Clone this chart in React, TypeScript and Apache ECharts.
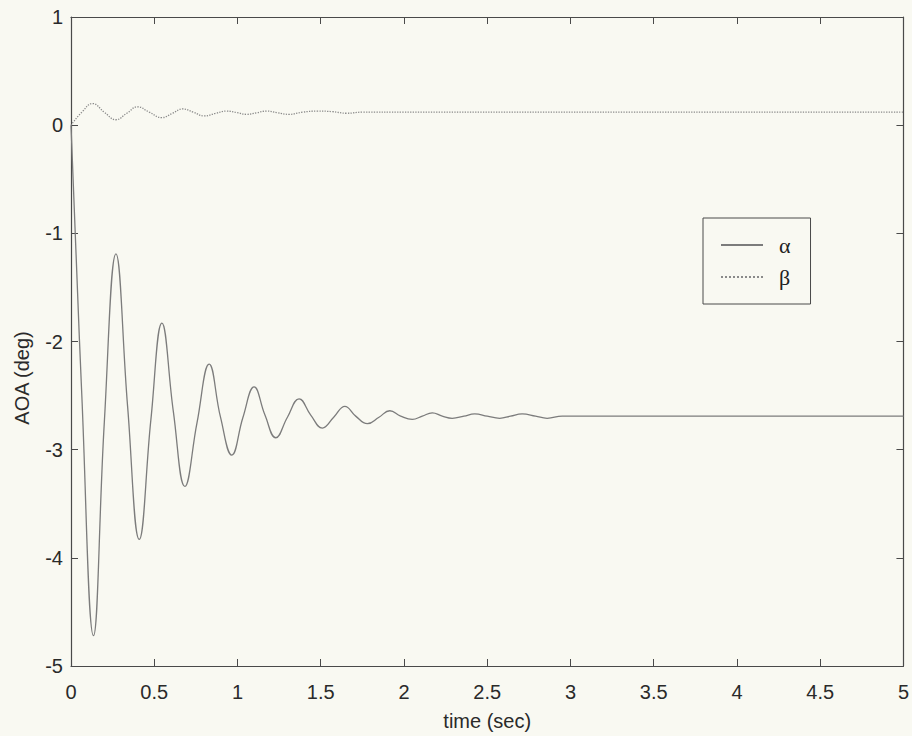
import React, { useEffect, useRef } from "react";
import * as echarts from "echarts";

const alphaT = [0, 0.065, 0.135, 0.2, 0.27, 0.34, 0.41, 0.48, 0.546, 0.615, 0.684, 0.757, 0.83, 0.898, 0.966, 1.033, 1.1, 1.165, 1.23, 1.3, 1.37, 1.44, 1.51, 1.578, 1.645, 1.71, 1.78, 1.85, 1.915, 1.98, 2.05, 2.11, 2.17, 2.23, 2.29, 2.36, 2.425, 2.5, 2.575, 2.64, 2.71, 2.79, 2.86, 2.95, 3.2, 5];
const alphaV = [0, -2.5, -4.72, -2.75, -1.19, -2.6, -3.83, -2.72, -1.83, -2.65, -3.34, -2.75, -2.21, -2.7, -3.05, -2.7, -2.42, -2.68, -2.89, -2.7, -2.53, -2.68, -2.8, -2.7, -2.6, -2.69, -2.76, -2.7, -2.64, -2.69, -2.72, -2.69, -2.66, -2.69, -2.71, -2.69, -2.67, -2.69, -2.71, -2.69, -2.67, -2.69, -2.71, -2.69, -2.69, -2.69];

const betaT = [0, 0.065, 0.13, 0.2, 0.27, 0.335, 0.4, 0.47, 0.545, 0.61, 0.67, 0.735, 0.8, 0.87, 0.935, 1.0, 1.055, 1.115, 1.175, 1.24, 1.31, 1.39, 1.48, 1.57, 1.655, 1.75, 2.0, 5];
const betaV = [0, 0.12, 0.2, 0.12, 0.05, 0.11, 0.17, 0.12, 0.07, 0.11, 0.15, 0.12, 0.085, 0.11, 0.13, 0.115, 0.1, 0.115, 0.13, 0.115, 0.1, 0.12, 0.13, 0.125, 0.11, 0.12, 0.12, 0.12];

const xTicks = { min: 0, max: 5, interval: 0.5 };
const yTicks = { min: -5, max: 1, interval: 1 };

const BG = "#f9f9f2";
const AXIS = "#4a4a4a";
const FONT = "'Liberation Sans', Arial, Helvetica, sans-serif";

export default function App() {
  const ref = useRef<HTMLDivElement>(null);
  useEffect(() => {
    document.body.style.margin = "0";
    document.body.style.background = BG;
    const chart = echarts.init(ref.current!, null, { renderer: "svg" });
    const axisCommon = {
      type: "value" as const,
      axisLine: { show: true, onZero: false, lineStyle: { color: AXIS, width: 1.2 } },
      axisTick: { show: true, inside: true, length: 7, lineStyle: { color: AXIS, width: 1 } },
      splitLine: { show: false },
    };
    const alphaData = alphaT.map((t, i) => [t, alphaV[i]]);
    const betaData = betaT.map((t, i) => [t, betaV[i]]);
    chart.setOption({
      animation: false,
      backgroundColor: BG,
      grid: { left: 71, right: 8, top: 17, bottom: 70, containLabel: false },
      xAxis: [
        {
          ...axisCommon,
          position: "bottom",
          ...xTicks,
          axisLabel: { color: "#2a2a2a", fontSize: 20, fontFamily: FONT, margin: 16 },
          name: "time (sec)",
          nameLocation: "middle",
          nameGap: 45,
          nameTextStyle: { color: "#2a2a2a", fontSize: 20, fontFamily: FONT },
        },
        {
          ...axisCommon,
          position: "top",
          ...xTicks,
          axisLabel: { show: false },
        },
      ],
      yAxis: [
        {
          ...axisCommon,
          position: "left",
          ...yTicks,
          axisLabel: { color: "#2a2a2a", fontSize: 20, fontFamily: FONT, margin: 8 },
        },
        {
          ...axisCommon,
          position: "right",
          ...yTicks,
          axisLabel: { show: false },
        },
      ],
      legend: {
        orient: "vertical",
        left: 703,
        top: 218,
        backgroundColor: BG,
        borderColor: AXIS,
        borderWidth: 1,
        padding: [16, 20, 16, 17],
        itemWidth: 42,
        itemHeight: 14,
        itemGap: 10,
        itemStyle: { opacity: 0 },
        textStyle: { fontSize: 22, fontFamily: "'Liberation Serif', 'DejaVu Serif', serif", color: "#222", padding: [0, 0, 0, 11] },
        data: ["α", "β"],
      },
      series: [
        {
          name: "α",
          type: "line",
          data: alphaData,
          smooth: 0.45,
          symbol: "none",
          lineStyle: { color: "#7c7c7c", width: 1.3, type: "solid" },
          itemStyle: { color: "#7c7c7c" },
        },
        {
          name: "β",
          type: "line",
          data: betaData,
          smooth: 0.45,
          symbol: "none",
          lineStyle: { color: "#8a8a8a", width: 1.3, type: "dotted" },
          itemStyle: { color: "#8a8a8a" },
        },
      ],
      graphic: [
        {
          type: "text",
          x: 22,
          y: 378,
          rotation: Math.PI / 2,
          style: {
            text: "AOA (deg)",
            fontSize: 20,
            fontFamily: FONT,
            fill: "#2a2a2a",
            textAlign: "center",
            textVerticalAlign: "middle",
          },
        },
      ],
    });
    return () => chart.dispose();
  }, []);
  return <div ref={ref} style={{ width: 912, height: 736, background: BG }} />;
}
